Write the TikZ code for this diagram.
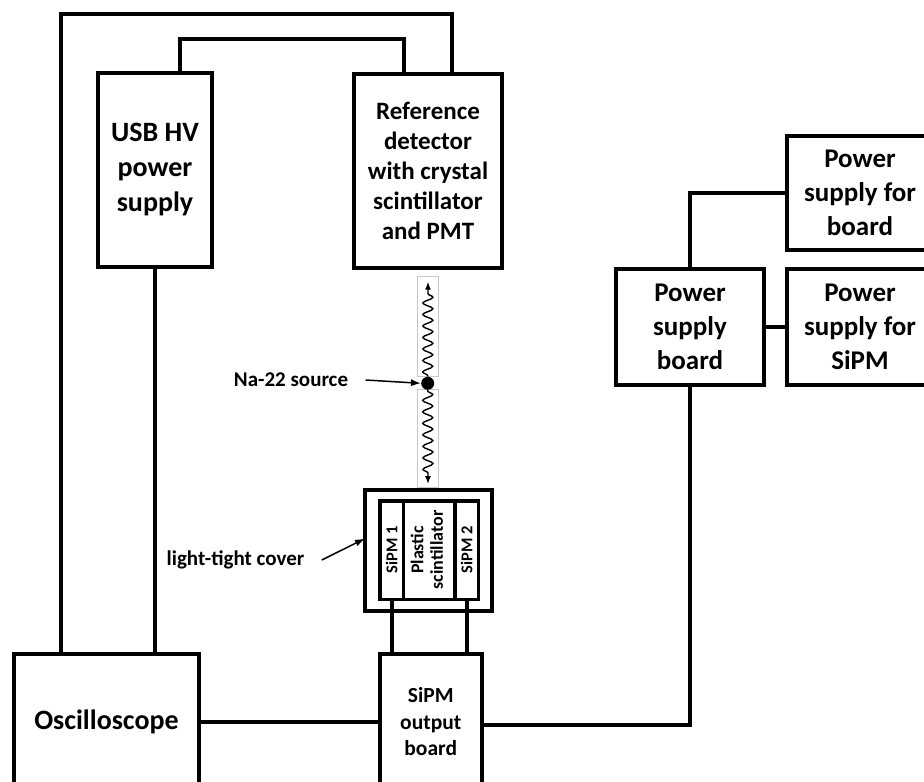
\documentclass[tikz,border=0pt]{standalone}
\usepackage{fontspec}
\setmainfont{Carlito}
\usetikzlibrary{arrows.meta,decorations.pathmorphing}

\begin{document}
\begin{tikzpicture}[x=1pt, y=-1pt,
    box/.style={draw, line width=4pt, inner sep=0pt, outer sep=0pt, align=center},
    cell/.style={draw, line width=3.5pt, inner sep=0pt, outer sep=0pt, minimum height=98.5pt},
    wire/.style={line width=4pt},
    gbox/.style={draw=black!22, line width=1pt, minimum width=20.5pt, inner sep=0pt, outer sep=0pt},
    gamma/.style={line width=1.4pt, -{Latex[length=8pt,width=6pt]}, decorate,
      decoration={snake, amplitude=5pt, segment length=11.5pt, pre length=1pt, post length=7pt}},
    pointer/.style={line width=1.5pt, -{Latex[length=10pt,width=7pt]}},
    note/.style={font=\fontsize{21}{25}\selectfont\bfseries}
  ]
    \useasboundingbox (0,0) rectangle (924,782);
    \clip (0,0) rectangle (924,782);

    \node[box, minimum width=113.5pt, minimum height=194pt,
      font=\fontsize{28}{35}\selectfont\bfseries] (usb) at (155,170) {USB HV\\power\\supply};
    \node[box, minimum width=148pt, minimum height=194pt,
      font=\fontsize{25}{30}\selectfont\bfseries] (ref) at (428,171)
      {Reference\\detector\\with crystal\\scintillator\\and PMT};
    \node[box, minimum width=185pt, minimum height=136pt,
      font=\fontsize{28}{34}\selectfont\bfseries] (osc) at (106.5,722) {Oscilloscope};
    \node[box, minimum width=101.5pt, minimum height=136pt,
      font=\fontsize{21.5}{26.5}\selectfont\bfseries] (out) at (430.75,722) {SiPM\\output\\board};

    \node[box, line width=3.7pt, minimum width=127pt, minimum height=121pt] (cover) at (428.5,550.5) {};
    \node[cell, minimum width=23.5pt, font=\fontsize{16.5}{19}\selectfont\bfseries] (sipm1) at (391.75,550)
      {\rotatebox{90}{SiPM 1}};
    \node[cell, minimum width=51.5pt, font=\fontsize{18}{19.5}\selectfont\bfseries] (plastic) at (429.25,550)
      {\rotatebox{90}{\begin{tabular}{@{}c@{}}Plastic\\scintillator\end{tabular}}};
    \node[cell, minimum width=23.5pt, font=\fontsize{16.5}{19}\selectfont\bfseries] (sipm2) at (466.75,550)
      {\rotatebox{90}{SiPM 2}};

    \node[gbox, minimum height=100pt] (gup) at (428,326.7) {};
    \node[gbox, minimum height=98pt] (gdown) at (428,438) {};
    \node[circle, fill, minimum size=13pt, inner sep=0pt] (dot) at (427.7,383.3) {};
    \draw[gamma] (dot.north) -- ([yshift=-5pt]gup.north);
    \draw[gamma] (dot.south) -- ([yshift=3pt]gdown.south);

    \node[note] (na) at (291,380) {Na-22 source};
    \draw[pointer] ([xshift=14pt]na.east) -- (dot.west);
    \node[note] (ltc) at (235.5,560) {light-tight cover};
    \draw[pointer] ([xshift=14pt]ltc.east) -- ([yshift=12pt]cover.west);

    \node[box, minimum width=148pt, minimum height=116pt,
      font=\fontsize{27}{34}\selectfont\bfseries] (psb) at (690,327) {Power\\supply\\board};
    \node[box, minimum width=146pt, minimum height=114pt,
      font=\fontsize{27}{34}\selectfont\bfseries] (psboard) at (860,193) {Power\\supply for\\board};
    \node[box, minimum width=146pt, minimum height=116pt,
      font=\fontsize{27}{34}\selectfont\bfseries] (pssipm) at (860,327) {Power\\supply for\\SiPM};

    \draw[wire] ([xshift=-45.5pt]osc.north) -- ++(0,-640) -| ([xshift=24pt]ref.north);
    \draw[wire] ([xshift=25pt]usb.north) -- ++(0,-34) -| ([xshift=-24pt]ref.north);
    \draw[wire] (usb.south) -- (usb.south |- osc.north);
    \draw[wire] (osc.east) -- (out.west);
    \draw[wire] (sipm1.south) -- (sipm1.south |- out.north);
    \draw[wire] (sipm2.south) -- (sipm2.south |- out.north);

    \draw[wire] (psb.north) |- (psboard.west);
    \draw[wire] (psb.east) -- (pssipm.west);
    \draw[wire] (psb.south) |- ([yshift=-3pt]out.east);
  \end{tikzpicture}
\end{document}
